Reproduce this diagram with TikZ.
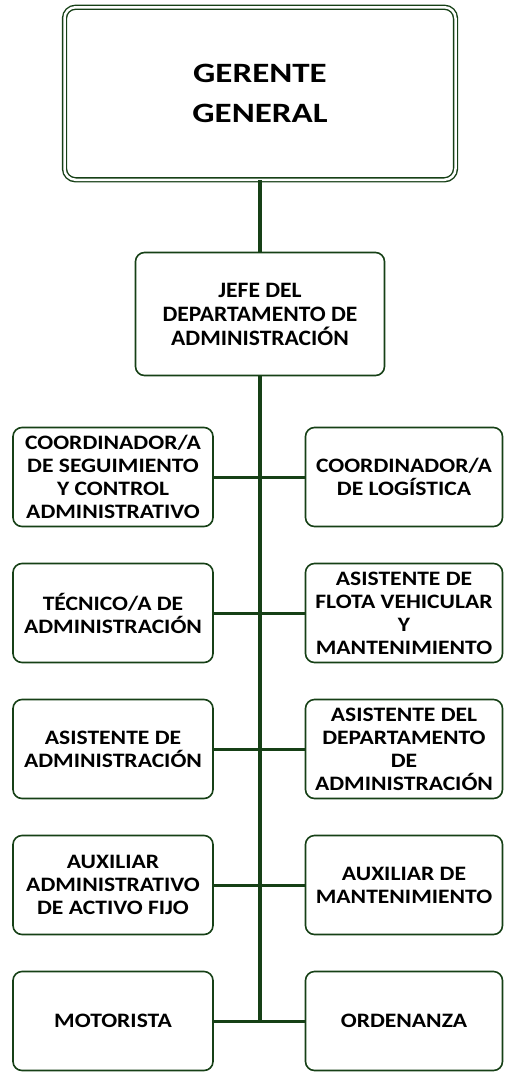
\documentclass[tikz,border=0pt]{standalone}
\usepackage{fontspec}
\setmainfont{Carlito}
\newfontfamily\ggfont[FakeStretch=1.25]{Carlito}
\newfontfamily\smallfont[FakeStretch=1.15]{Carlito}
\newfontfamily\jefefont[FakeStretch=1.07]{Carlito}
\definecolor{orgGreen}{RGB}{22,64,22}
\tikzset{
  boxbase/.style={draw=orgGreen, line width=1.6pt, rounded corners=9pt, fill=white, align=center, inner sep=0pt},
  smallbox/.style={boxbase, minimum width=200pt, minimum height=99pt, font=\smallfont\fontsize{20.5}{23}\selectfont\bfseries},
  trunk/.style={draw=orgGreen, line width=4pt},
  branch/.style={draw=orgGreen, line width=3pt}
}
\begin{document}
\begin{tikzpicture}[x=1pt,y=-1pt]
\useasboundingbox (0,0) rectangle (504,1072);
% top box
\node[boxbase, double=white, double distance=2.5pt, line width=1.4pt, rounded corners=11pt,
      minimum width=391pt, minimum height=172.5pt,
      font=\ggfont\fontsize{28}{40}\selectfont\bfseries] (gg) at (260,93.5) {GERENTE\\GENERAL};
\node[boxbase, minimum width=249pt, minimum height=123pt,
      font=\jefefont\fontsize{22}{24}\selectfont\bfseries] (jefe) at (260,314) {JEFE DEL\\DEPARTAMENTO DE\\ADMINISTRACIÓN};
% trunk end
\coordinate (tend) at (260,1021);
\draw[trunk] (gg.south) -- (jefe.north);
\draw[trunk] (jefe.south) -- (tend);
% left boxes
\node[smallbox] (l1) at (113,477) {COORDINADOR/A\\DE SEGUIMIENTO\\Y CONTROL\\ADMINISTRATIVO};
\node[smallbox] (l2) at (113,613) {TÉCNICO/A DE\\ADMINISTRACIÓN};
\node[smallbox] (l3) at (113,749) {ASISTENTE DE\\ADMINISTRACIÓN};
\node[smallbox] (l4) at (113,885) {AUXILIAR\\ADMINISTRATIVO\\DE ACTIVO FIJO};
\node[smallbox] (l5) at (113,1021) {MOTORISTA};
% right boxes
\node[smallbox, minimum width=197pt] (r1) at (404,477) {COORDINADOR/A\\DE LOGÍSTICA};
\node[smallbox, minimum width=197pt] (r2) at (404,613) {ASISTENTE DE\\FLOTA VEHICULAR\\Y\\MANTENIMIENTO};
\node[smallbox, minimum width=197pt] (r3) at (404,749) {ASISTENTE DEL\\DEPARTAMENTO\\DE\\ADMINISTRACIÓN};
\node[smallbox, minimum width=197pt] (r4) at (404,885) {AUXILIAR DE\\MANTENIMIENTO};
\node[smallbox, minimum width=197pt] (r5) at (404,1021) {ORDENANZA};
% branches
\foreach \i in {1,...,5}{
  \draw[branch] (l\i.east) -- (r\i.west);
}
\end{tikzpicture}
\end{document}
